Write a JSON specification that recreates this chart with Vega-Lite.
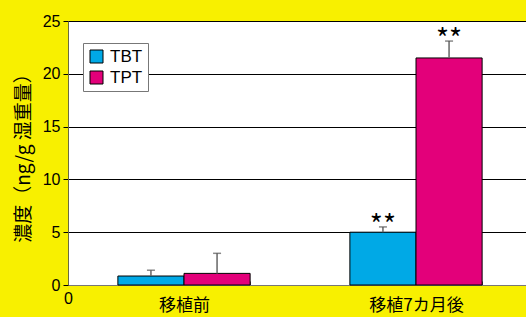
{
  "$schema": "https://vega.github.io/schema/vega-lite/v6.json",
  "width": 464,
  "height": 264,
  "autosize": {"type": "none"},
  "padding": {"left": 68, "top": 21, "right": 0, "bottom": 32},
  "background": "#F8F000",
  "view": {"fill": "white", "stroke": "black", "strokeWidth": 1},
  "config": {
    "axisY": {
      "grid": true, "gridColor": "black", "gridOpacity": 1, "gridWidth": 1,
      "titleFont": "Noto Sans CJK JP", "titleFontSize": 19, "titleFontWeight": "normal",
      "titleColor": "black", "titlePadding": 9,
      "labelFont": "Liberation Sans", "labelFontSize": 16, "labelColor": "black", "labelPadding": 3,
      "domainColor": "#6b6b40", "tickColor": "black", "tickSize": 5
    },
    "legend": {
      "labelFont": "Liberation Sans", "labelFontSize": 17, "labelColor": "black"
    }
  },
  "data": {
    "values": [
      {"period": "移植前", "compound": "TBT", "value": 0.85, "high": 1.4, "stars": ""},
      {"period": "移植前", "compound": "TPT", "value": 1.1, "high": 3.0, "stars": ""},
      {"period": "移植7カ月後", "compound": "TBT", "value": 5.0, "high": 5.5, "stars": "**"},
      {"period": "移植7カ月後", "compound": "TPT", "value": 21.5, "high": 23.1, "stars": "**"}
    ]
  },
  "encoding": {
    "x": {
      "field": "period", "type": "nominal", "sort": ["移植前", "移植7カ月後"],
      "scale": {"paddingInner": 0.43, "paddingOuter": 0.215},
      "axis": {
        "title": "0", "titleAnchor": "start", "titleAlign": "center", "titleX": 0, "titleY": 13,
        "titleBaseline": "middle", "titleFont": "Liberation Sans", "titleFontSize": 16, "titleFontWeight": "normal", "titleColor": "black",
        "labelAngle": 0, "labelFont": "Noto Sans CJK JP", "labelFontSize": 17, "labelColor": "black", "labelPadding": 16,
        "domainColor": "#777777", "tickColor": "#555555", "tickBand": "extent", "tickSize": -4, "grid": false
      }
    },
    "xOffset": {"field": "compound", "type": "nominal", "scale": {"paddingInner": 0, "paddingOuter": 0}}
  },
  "layer": [
    {
      "mark": {"type": "bar", "stroke": "black", "strokeWidth": 1},
      "encoding": {
        "y": {
          "field": "value", "type": "quantitative",
          "scale": {"domain": [0, 25], "nice": false},
          "axis": {"values": [0, 5, 10, 15, 20, 25], "title": "濃度（ng/g 湿重量）"}
        },
        "color": {
          "field": "compound", "type": "nominal",
          "scale": {"domain": ["TBT", "TPT"], "range": ["#00A9E6", "#E3007A"]},
          "legend": {
            "title": null, "orient": "none", "legendX": 15, "legendY": 22,
            "fillColor": "white", "strokeColor": "#777777", "padding": 5,
            "symbolType": "square", "symbolSize": 169, "symbolStrokeColor": "black", "symbolStrokeWidth": 1, "symbolOpacity": 1,
            "rowPadding": 3, "labelOffset": 5
          }
        }
      }
    },
    {
      "mark": {"type": "rule", "color": "#666666", "strokeWidth": 1.5},
      "encoding": {
        "y": {"field": "value", "type": "quantitative", "title": "濃度（ng/g 湿重量）"},
        "y2": {"field": "high"}
      }
    },
    {
      "mark": {"type": "tick", "color": "#555555", "thickness": 1.5, "size": 8, "orient": "horizontal"},
      "encoding": {
        "y": {"field": "high", "type": "quantitative", "title": "濃度（ng/g 湿重量）"}
      }
    },
    {
      "mark": {"type": "text", "font": "Noto Sans CJK JP", "fontSize": 28, "baseline": "bottom", "dy": 14, "color": "black"},
      "encoding": {
        "y": {"field": "high", "type": "quantitative", "title": "濃度（ng/g 湿重量）"},
        "text": {"field": "stars"}
      }
    }
  ]
}
